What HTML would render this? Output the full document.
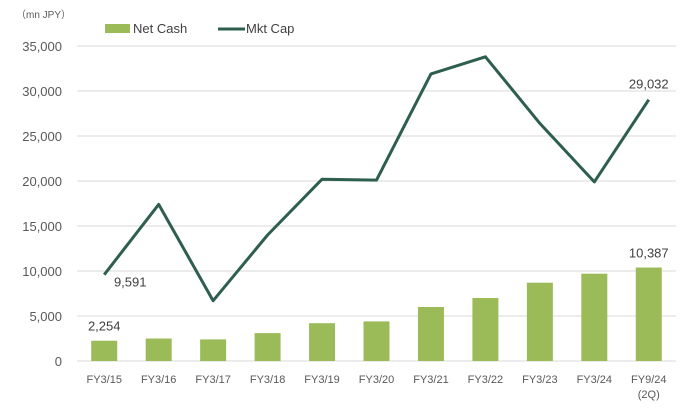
<!DOCTYPE html>
<html><head><meta charset="utf-8"><style>
body{margin:0;background:#fff;font-family:"Liberation Sans",sans-serif;}
svg text{font-family:"Liberation Sans",sans-serif;}
</style></head><body>
<svg id="chart" width="692" height="409" xmlns="http://www.w3.org/2000/svg">
<text x="16" y="18" font-size="10" fill="#595959">（mn JPY）</text>
<g>
<rect x="105" y="24" width="25" height="9" fill="#9bbb59"/>
<text x="133" y="33" font-size="13" fill="#404040">Net Cash</text>
<line x1="218" y1="29" x2="245" y2="29" stroke="#2e5e4e" stroke-width="3"/>
<text x="246" y="33" font-size="13" fill="#404040">Mkt Cap</text>
</g>
<g id="grid"></g><g id="bars"></g><g id="line"></g><g id="labels"></g>
</svg>
<script>
const categories=["FY3/15","FY3/16","FY3/17","FY3/18","FY3/19","FY3/20","FY3/21","FY3/22","FY3/23","FY3/24","FY9/24"];
const netCash=[2254,2500,2400,3100,4200,4400,6000,7000,8700,9700,10387];
const mktCap=[9591,17400,6700,14000,20200,20100,31900,33800,26400,19900,29032];
const yTicks=[0,5000,10000,15000,20000,25000,30000,35000];
const NS="http://www.w3.org/2000/svg";
const x0=77,x1=676,y0=361,yTop=46,yMax=35000;
const step=(x1-x0)/categories.length;
const xc=i=>x0+step*(i+0.5);
const y=v=>y0-(v/yMax)*(y0-yTop);
function mk(tag,attrs,parent){const e=document.createElementNS(NS,tag);for(const k in attrs)e.setAttribute(k,attrs[k]);document.getElementById(parent).appendChild(e);return e;}
yTicks.forEach(t=>{
 const l=mk('line',{x1:x0,x2:x1,y1:y(t),y2:y(t),stroke:'#d9d9d9','stroke-width':1},'grid');
 
 
 const tx=mk('text',{x:62,y:y(t)+5,'font-size':13,fill:'#595959','text-anchor':'end'},'grid');
 tx.textContent=t.toLocaleString('en-US');
 
 
});
categories.forEach((c,i)=>{
 const b=mk('rect',{x:xc(i)-13,y:y(netCash[i]),width:26,height:y0-y(netCash[i]),fill:'#9bbb59'},'bars');
 
 
 const t=mk('text',{x:xc(i),y:383,'font-size':11,fill:'#595959','text-anchor':'middle'},'labels');
 t.textContent=c;
 
 
});
const t2=mk('text',{x:xc(10),y:398,'font-size':11,fill:'#595959','text-anchor':'middle'},'labels');
t2.textContent='(2Q)';


const p=mk('polyline',{points:mktCap.map((v,i)=>xc(i)+','+y(v)).join(' '),fill:'none',stroke:'#2e5e4e','stroke-width':3,'stroke-linejoin':'round'},'line');


function lab(txt,x,yy,name){const t=mk('text',{x:x,y:yy,'font-size':13,fill:'#404040','text-anchor':'middle'},'labels');t.textContent=txt;}
lab(netCash[0].toLocaleString('en-US'),xc(0),y(netCash[0])-10,'value-label-net-cash-first');
lab(netCash[10].toLocaleString('en-US'),xc(10),y(netCash[10])-10,'value-label-net-cash-last');
lab(mktCap[0].toLocaleString('en-US'),xc(0)+26,y(mktCap[0])+12,'value-label-mkt-cap-first');
lab(mktCap[10].toLocaleString('en-US'),xc(10),y(mktCap[10])-11,'value-label-mkt-cap-last');
</script>
</body></html>
